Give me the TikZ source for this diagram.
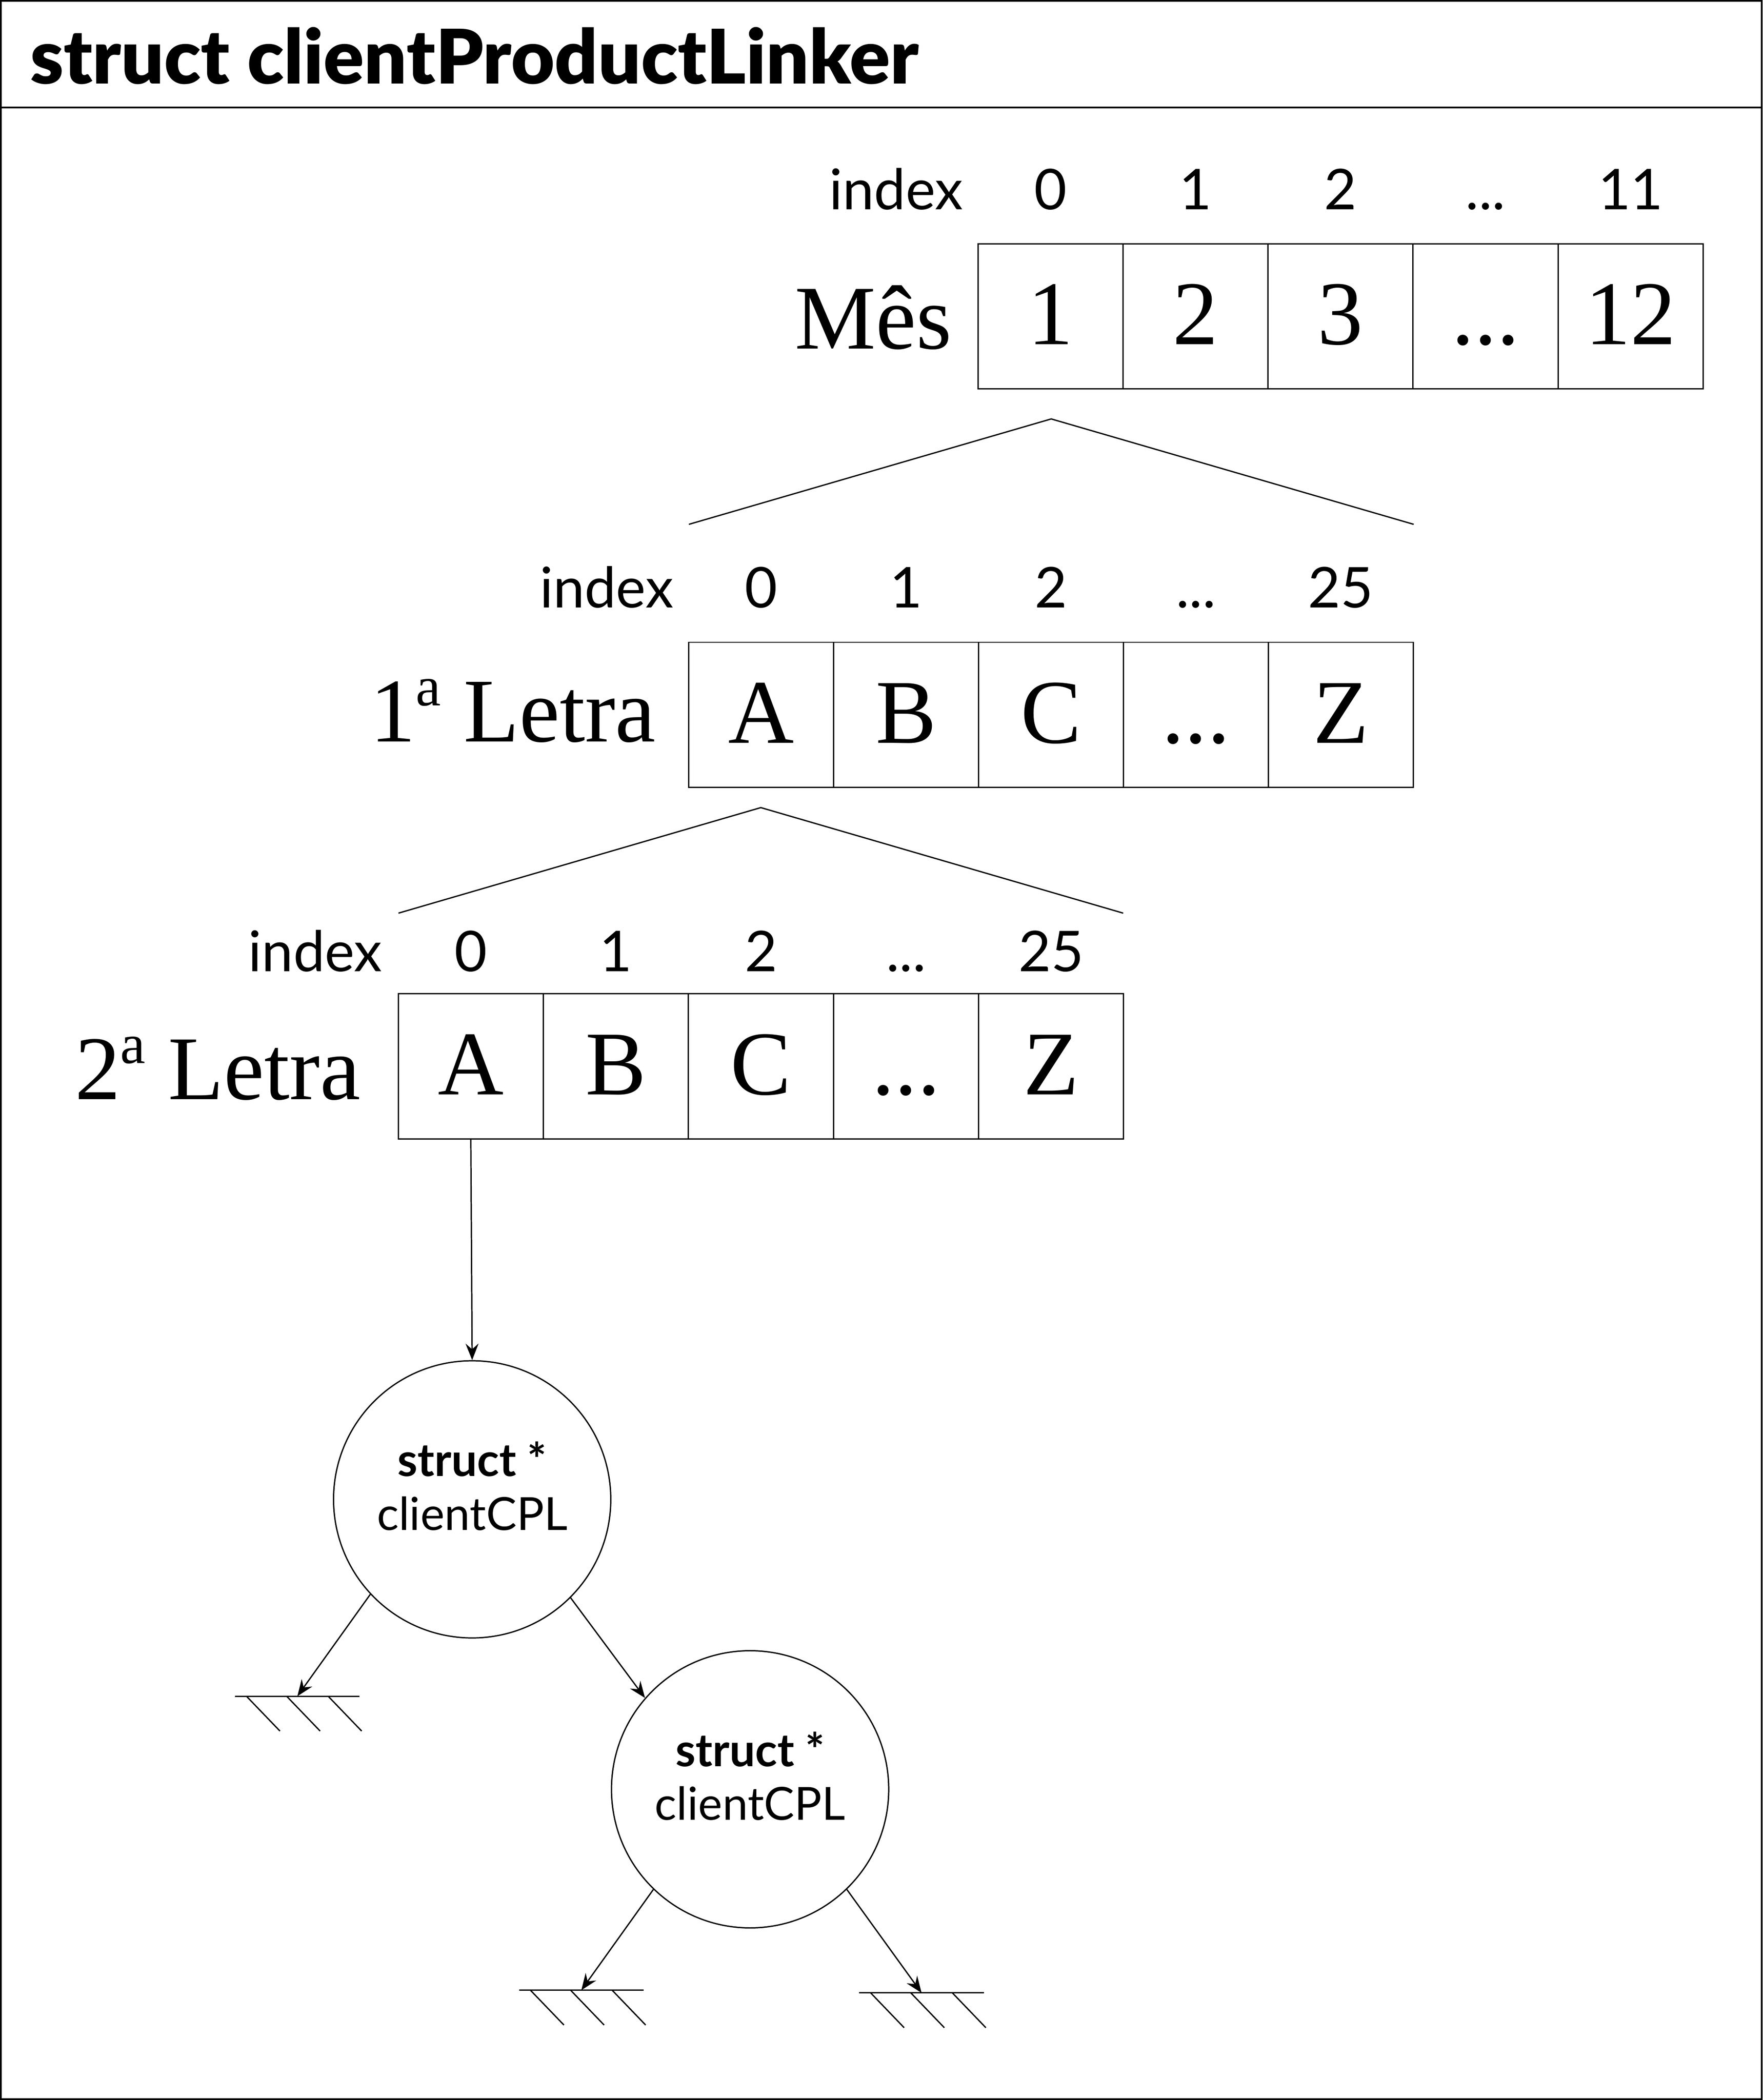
\documentclass[tikz,border=0pt]{standalone}
\usepackage{fontspec}
\setmainfont{Liberation Serif}
\setsansfont{Lato}
\newfontfamily\titlefont{Lato Black}
\usetikzlibrary{arrows.meta}

\newcommand{\elip}{...}
\newcommand{\supa}{\raisebox{15.4pt}{\fontsize{24}{24}\selectfont a}}

\tikzset{
	cell/.style={draw, minimum width=2.166cm, minimum height=2.166cm, inner sep=0pt,
		text height=0.84cm, text depth=0pt, font=\fontsize{38.7}{40}\selectfont},
	idx/.style={inner sep=0pt, anchor=base, font=\sffamily\fontsize{23.9}{26}\selectfont},
	biglabel/.style={inner sep=0pt, anchor=base east, font=\fontsize{38.7}{40}\selectfont},
	circ/.style={draw, circle, minimum size=4.14cm, inner sep=0pt, align=center,
		font=\sffamily\fontsize{19.4}{22.8}\selectfont},
	ground/.pic={
		\draw (-46.5,0) -- (46.5,0);
		\foreach \d in {-38,-8,23}
			\draw (\d,0) -- ++(25,26);
	}
}

\begin{document}
\begin{tikzpicture}[
		x=0.02cm, y=-0.02cm,
		every path/.style={line width=0.55pt},
		>={Stealth[length=7pt, width=5.5pt, inset=2.4pt]}
	]
	\useasboundingbox (0,0) rectangle (1316,1568);
	\draw[line width=0.8pt] (0.7,0.7) rectangle (1315.3,1567.3);
	\draw[line width=0.8pt] (0.7,80.2) -- (1315.3,80.2);
	\node[inner sep=0pt, anchor=base west, font=\titlefont\fontsize{32}{34}\selectfont]
		(title) at (22,62.6) {struct clientProductLinker};

	% Mes
	\node[idx, anchor=base east] (mesidx) at (719.5,156.6) {index};
	\foreach \v [count=\i from 0] in {0,1,2,\elip,11}
		\node[idx] (mesi\i) at (784.2+108.3*\i,156.6) {\v};
	\node[biglabel] (meslbl) at (711,260.4) {Mês};
	\foreach \v [count=\i from 0] in {1,2,3,\elip,12}
		\node[cell] (mes\i) at (784.2+108.3*\i,236.2) {\v};

	\coordinate (t1) at (784.8,312.8);
	\coordinate (t1l) at (514.3,391.5);
	\coordinate (t1r) at (1055.4,391.5);
	\draw (t1l) -- (t1) -- (t1r);

	% 1a letra
	\node[idx, anchor=base east] (laidx) at (503.3,453.8) {index};
	\foreach \v [count=\i from 0] in {0,1,2,\elip,25}
		\node[idx] (lai\i) at (568.2+108.2*\i,453.8) {\v};
	\node[biglabel] (lalbl) at (490,553.8) {1\supa{} Letra};
	\foreach \v [count=\i from 0] in {A,B,C,\elip,Z}
		\node[cell] (la\i) at (568.2+108.2*\i,533.7) {\v};

	\coordinate (t2) at (568,603);
	\coordinate (t2l) at (297.5,681.8);
	\coordinate (t2r) at (838.5,681.8);
	\draw (t2l) -- (t2) -- (t2r);

	% 2a letra
	\node[idx, anchor=base east] (lbidx) at (285.8,725.2) {index};
	\foreach \v [count=\i from 0] in {0,1,2,\elip,25}
		\node[idx] (lbi\i) at (351.5+108.3*\i,725.2) {\v};
	\node[biglabel] (lblbl) at (269.6,820.9) {2\supa{} Letra};
	\foreach \v [count=\i from 0] in {A,B,C,\elip,Z}
		\node[cell] (lb\i) at (351.5+108.3*\i,796.2) {\v};

	% arvore
	\node[circ] (c1) at (352.5,1119.5) {\textbf{struct *}\\clientCPL\rule[-0.4cm]{0pt}{0pt}};
	\node[circ] (c2) at (560,1336) {\textbf{struct *}\\clientCPL\rule[-0.4cm]{0pt}{0pt}};

	\coordinate (g1) at (222,1266.5);
	\coordinate (g2) at (434,1486);
	\coordinate (g3) at (688,1488);
	\pic at (g1) {ground};
	\pic at (g2) {ground};
	\pic at (g3) {ground};

	\draw[->] (lb0.south) -- (c1.north);
	\draw[->] (c1.223.2) -- (g1);
	\draw[->] (c1.-45.7) -- (c2.139.5);
	\draw[->] (c2.226.4) -- (g2);
	\draw[->] (c2.-46.4) -- (g3);
\end{tikzpicture}
\end{document}
